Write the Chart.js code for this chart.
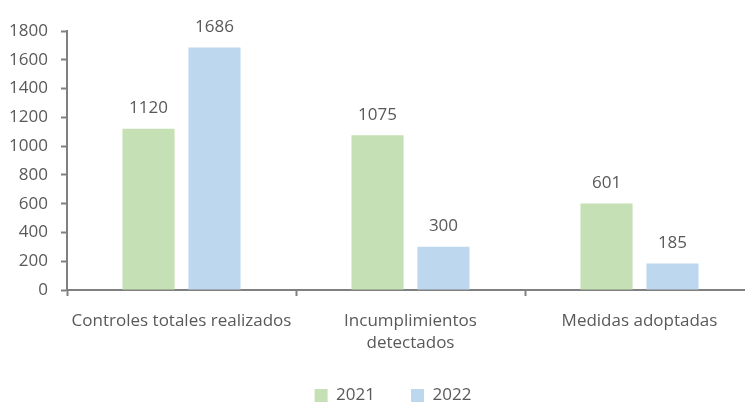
<!DOCTYPE html>
<html>
<head>
<meta charset="utf-8">
<script src="https://cdn.jsdelivr.net/npm/chart.js@4.4.0/dist/chart.umd.min.js"></script>
<style>
  html, body { margin: 0; padding: 0; background: #fff; overflow: hidden; }
  #wrap { width: 786px; height: 403px; }
</style>
</head>
<body>
<div id="wrap"><canvas id="barGraph"></canvas></div>
<script>
// DATA
const categories = ['Controles totales realizados', ['Incumplimientos', 'detectados'], 'Medidas adoptadas'];
const values2021 = [1120, 1075, 601];
const values2022 = [1686, 300, 185];
const yTicks = [0, 200, 400, 600, 800, 1000, 1200, 1400, 1600, 1800];

const textColor = '#595959';
const axisColor = '#808080';
const font = { family: 'Open Sans', size: 17, lineHeight: 1.3 };

// value labels above the bars
const barLabels = {
  id: 'barLabels',
  beforeDraw(chart) {
    // let tick labels run outside the axis boxes (no clipping)
    chart.scales.x.bottom = chart.height;
    chart.scales.y.left = 0;
  },
  afterDatasetsDraw(chart) {
    const ctx = chart.ctx;
    ctx.save();
    ctx.font = '17px "Open Sans"';
    ctx.fillStyle = textColor;
    ctx.textAlign = 'center';
    ctx.textBaseline = 'bottom';
    chart.data.datasets.forEach((ds, i) => {
      chart.getDatasetMeta(i).data.forEach((bar, j) => {
        ctx.fillText(ds.data[j], bar.x, bar.y - 12);
      });
    });
    ctx.restore();
  }
};

const ctx = document.getElementById('barGraph').getContext('2d');
const myChart = new Chart(ctx, {
  type: 'bar',
  data: {
    labels: categories,
    datasets: [{
      label: '2021',
      data: values2021,
      backgroundColor: '#C5E0B4'
    }, {
      label: '2022',
      data: values2022,
      backgroundColor: '#BDD7EE'
    }]
  },
  options: {
    responsive: true,
    maintainAspectRatio: false,
    animation: false,
    layout: { padding: { top: 31, right: 32, bottom: -11, left: 32 } },
    datasets: {
      bar: { categoryPercentage: 0.576, barPercentage: 0.79 }
    },
    scales: {
      x: {
        grid: { display: true, drawOnChartArea: false, offset: true, tickLength: 6, color: axisColor, tickColor: axisColor, tickWidth: 2 },
        border: { color: axisColor, width: 2 },
        ticks: { color: textColor, font: font, padding: 14, maxRotation: 0 },
        afterFit(scale) { scale.height = 61; }
      },
      y: {
        min: 0,
        max: 1800,
        afterBuildTicks(scale) { scale.ticks = yTicks.map(v => ({ value: v })); },
        grid: { display: true, drawOnChartArea: false, tickLength: 6, color: axisColor, tickColor: axisColor, tickWidth: 2 },
        border: { color: axisColor, width: 2 },
        ticks: { color: textColor, font: font, padding: 13, callback: v => String(v) },
        afterFit(scale) { scale.width = 35; }
      }
    },
    plugins: {
      legend: {
        position: 'bottom',
        labels: { color: textColor, font: { family: 'Open Sans', size: 17 }, boxWidth: 13, boxHeight: 13, padding: 36 }
      },
      tooltip: { enabled: false }
    }
  },
  plugins: [barLabels]
});
</script>
</body>
</html>
